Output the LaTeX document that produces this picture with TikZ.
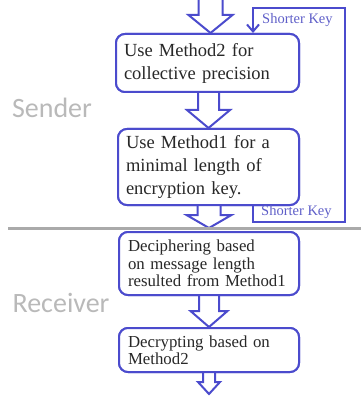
\documentclass[tikz,border=0pt]{standalone}
\usepackage{fontspec}
\setmainfont{Liberation Serif}
\newfontfamily\boxfont{Liberation Serif}
\newfontfamily\sidefont{Carlito}
\usetikzlibrary{arrows.meta,calc}
\definecolor{flowblue}{RGB}{75,75,205}
\definecolor{keyblue}{RGB}{95,95,200}
\definecolor{sidegray}{RGB}{185,185,185}
\definecolor{linegray}{RGB}{170,170,170}
\definecolor{textdark}{RGB}{40,40,40}
\newcommand\blockarr[5]{%
  \filldraw[barrow] let \p1=(#1), \p2=(#2) in
    (\x2-#3pt,\y1) -- (\x2-#3pt,\y2+#5pt) -- (\x2-#4pt,\y2+#5pt) -- (\x2,\y2)
    -- (\x2+#4pt,\y2+#5pt) -- (\x2+#3pt,\y2+#5pt) -- (\x2+#3pt,\y1);
}
\begin{document}
\begin{tikzpicture}[x=1pt,y=-1pt,
  box/.style={draw=flowblue, line width=2pt, rounded corners=9pt, fill=white,
    inner ysep=0pt, align=left, text=textdark, anchor=north west},
  bigbox/.style={box, inner xsep=8pt, font=\boxfont\fontsize{18.5}{23}\selectfont},
  smallbox/.style={box, inner xsep=9pt, font=\boxfont\fontsize{16.8}{17.5}\selectfont},
  barrow/.style={draw=flowblue, fill=white, line width=2pt, line join=miter},
  fbline/.style={draw=flowblue, line width=2pt},
  keylabel/.style={text=keyblue, font=\boxfont\fontsize{14.5}{16}\selectfont, inner sep=0pt, anchor=west},
  side/.style={text=sidegray, font=\sidefont\fontsize{28}{30}\selectfont, inner sep=0pt},
  divider/.style={draw=linegray, line width=3pt}
]
\useasboundingbox (0,0) rectangle (361,398);

% box positions (named)
\path (115,33) node[bigbox, minimum width=183pt, minimum height=58pt, text width=167pt] (b1)
  {Use Method2 for\\collective precision};
\path (117,128) node[bigbox, minimum width=181pt, minimum height=76pt, text width=165pt] (b2)
  {Use Method1 for a\\minimal length of\\encryption key.};
\path (118,231) node[smallbox, minimum width=180pt, minimum height=63pt, text width=162pt] (b3)
  {Deciphering based\\on message length\\resulted from Method1};
\path (118,327) node[smallbox, minimum width=180pt, minimum height=44pt, text width=162pt] (b4)
  {Decrypting based on\\Method2};

\coordinate (in) at (210,0);
\coordinate (out) at (209,394);

% block arrows
\blockarr{in}{$(b1.north)+(3,0)$}{12}{22}{18}
\blockarr{b1.south}{b2.north}{10.5}{21.5}{18}
\blockarr{b2.south}{$(b3.north)+(0,-3)$}{11.5}{22.5}{13}
\blockarr{b3.south}{b4.north}{10}{18.5}{16}
\blockarr{b4.south}{out}{6}{11}{12}

% redraw boxes on top of arrow stems
\path (115,33) node[bigbox, minimum width=183pt, minimum height=58pt, text width=167pt]
  {Use Method2 for\\collective precision};
\path (117,128) node[bigbox, minimum width=181pt, minimum height=76pt, text width=165pt]
  {Use Method1 for a\\minimal length of\\encryption key.};
\path (118,231) node[smallbox, minimum width=180pt, minimum height=63pt, text width=162pt]
  {Deciphering based\\on message length\\resulted from Method1};
\path (118,327) node[smallbox, minimum width=180pt, minimum height=44pt, text width=162pt]
  {Decrypting based on\\Method2};

% feedback loop
\coordinate (k1) at (253,222);
\coordinate (k2) at (345,222);
\coordinate (k3) at (345,8);
\coordinate (k4) at (253,8);
\draw[fbline, -{Straight Barb[length=7pt,width=12pt]}]
  (b2.south -| k1) -- (k1) -- (k2) -- (k3) -- (k4) -- (k4 |- b1.north);
\node[keylabel] (kt) at (262,20) {Shorter Key};
\node[keylabel] (kb) at (261,212) {Shorter Key};

% divider
\coordinate (d1) at (8,228);
\coordinate (d2) at (361,228);
\draw[divider] (d1) -- (d2);

% side labels
\node[side] (snd) at (52,108) {Sender};
\node[side] (rcv) at (61,303) {Receiver};
\end{tikzpicture}
\end{document}
